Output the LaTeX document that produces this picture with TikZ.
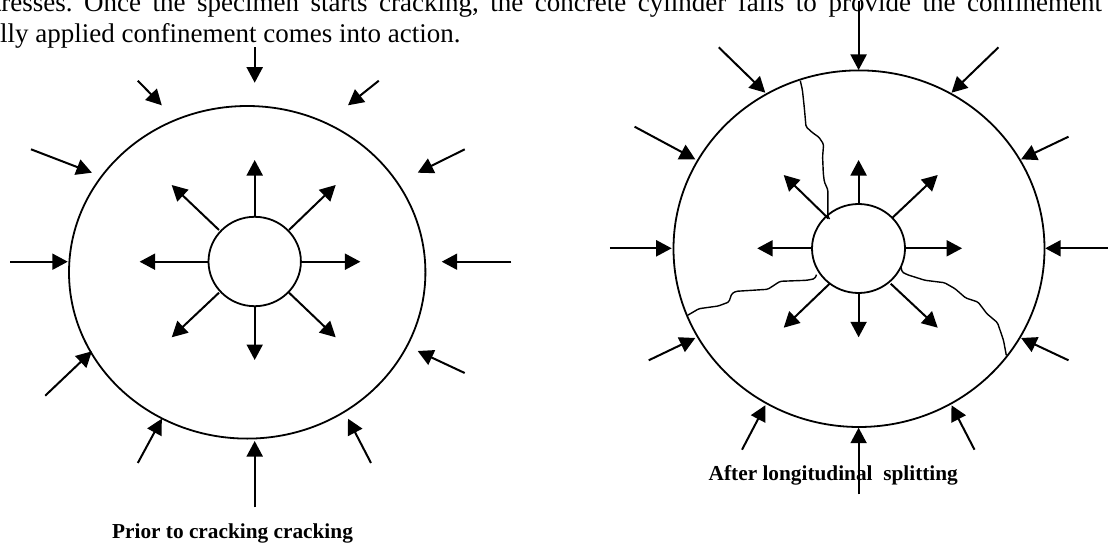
\documentclass[tikz,border=0pt]{standalone}
\usepackage{fontspec}
\setmainfont{Liberation Serif}
\usetikzlibrary{arrows.meta}
\tikzset{
  arr/.style={line width=2pt,-{Triangle[length=15.5pt,width=16pt]},shorten >=0pt},
  ring/.style={draw,line width=1.8pt},
  crack/.style={line width=1.4pt,line join=round,rounded corners=1.5pt},
  bodytext/.style={inner sep=0pt,anchor=base west,font=\fontsize{27}{30}\selectfont},
  captext/.style={inner sep=0pt,anchor=base,font=\bfseries\fontsize{21.3}{24}\selectfont}
}
\begin{document}
\begin{tikzpicture}[x=1pt,y=-1pt]
\useasboundingbox[fill=white] (0,0) rectangle (1108,543);
\clip (0,0) rectangle (1108,543);
% running text
\node[bodytext] (line1) at (-6.3,12) {\hbox to 1108pt{tresses.\hfil Once\hfil the\hfil specimen\hfil starts\hfil cracking,\hfil the\hfil concrete\hfil cylinder\hfil fails\hfil to\hfil provide\hfil the\hfil confinement}};
\node[bodytext] (line2) at (0,42.7) {lly applied confinement comes into action.};
% left figure
\draw[ring] (247.2,272.3) ellipse [x radius=178.2,y radius=166.3];
\draw[ring] (254.7,261.5) ellipse [x radius=46.2,y radius=44.7];
\foreach \a/\b/\c/\d in {
  254.7/216.7/254.7/160, 289/230/335.7/185, 219/230/171.7/185,
  208.5/261.7/139.6/261.7, 301/261.7/360.4/261.7,
  219/292.7/171.7/337.3, 254.7/306/254.7/360, 289/292.7/335.7/337.3,
  254.7/47.3/254.7/82.7, 137.8/80.7/161.8/105.3, 378.8/80.7/348/105.3,
  31/149.3/91.9/172.7, 464.7/149.3/417.7/172.7,
  10/261.7/67.8/261.7, 511.3/261.7/441.7/261.7,
  45.2/395.7/91.9/351.3, 464.7/373/417.7/351,
  137.8/463/161.8/418.7, 371/463/348/418.7, 254.7/507.3/254.7/441}
  {\draw[arr] (\a,\b) -- (\c,\d);}
\node[captext] (capA) at (232.5,538) {Prior to cracking cracking};
% right figure
\draw[ring] (859,248.7) ellipse [x radius=185.5,y radius=178.3];
\draw[ring] (858.5,248.5) ellipse [x radius=46.5,y radius=44.5];
\draw[crack] (800.3,80.7) -- (802.4,90) -- (804.2,106.7) -- (806,126.7) -- (812,132.3) -- (819,137.3) -- (823.6,144.3) -- (822.6,156.7) -- (823.3,173.3) -- (824.3,181.7) -- (827.9,190) -- (827.9,216.7) -- (829.6,219);
\draw[crack] (687.6,315.3) -- (698.9,308.7) -- (718.3,306) -- (728.9,302) -- (731.7,293.7) -- (736,291.3) -- (767.8,289.3) -- (780.1,281.3) -- (806.6,280.3) -- (814.8,278.7) -- (816.5,274.7);
\draw[crack] (901,266.7) -- (902,272) -- (907.3,274.7) -- (925,280.3) -- (944.5,282.7) -- (955,288.7) -- (965.7,298) -- (978,302) -- (986.9,313.7) -- (997.5,322.7) -- (1003.5,340.3) -- (1006.3,355.3);
\node[captext] (capB) at (833.3,480.3) {After longitudinal\ \ splitting};
\foreach \a/\b/\c/\d in {
  858.6/204/858.6/160, 891.8/218.3/937.7/175, 828.2/218.3/783.7/175,
  812/248.3/757.2/248.3, 904.9/248.3/962.1/248.3,
  829.6/283.7/783.7/327.7, 858.6/293/858.6/337.3, 890.7/283.7/937.7/327.7,
  858.6/1/858.6/70, 718.7/47.3/765.3/92.7, 998.5/47.3/951.5/92.7,
  634.6/126.7/695.3/159.3, 1068.5/136.7/1021.1/159.3,
  609.8/248.3/671.7/248.3, 1112/248.3/1045.2/248.3,
  648.7/360.3/695.3/338, 1068.5/360.3/1021.1/338,
  742/449.7/765.3/405.3, 974.5/449.7/951.5/405.3, 858.6/494.3/858.6/427.7}
  {\draw[arr] (\a,\b) -- (\c,\d);}
\end{tikzpicture}
\end{document}
